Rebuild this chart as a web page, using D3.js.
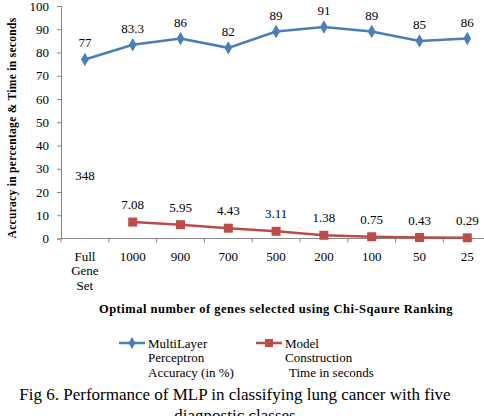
<!DOCTYPE html>
<html>
<head>
<meta charset="utf-8">
<script src="https://cdn.jsdelivr.net/npm/d3@7"></script>
<style>
  body { margin: 0; background: #fff; }
  svg, svg text { font-family: 'Liberation Serif', 'Times New Roman', serif; }
</style>
</head>
<body>
<div class="lineChart"></div>
<script>
// data
const categories = ["Full Gene Set", "1000", "900", "700", "500", "200", "100", "50", "25"];
const accuracy = [77, 83.3, 86, 82, 89, 91, 89, 85, 86];
const buildTime = [348, 7.08, 5.95, 4.43, 3.11, 1.38, 0.75, 0.43, 0.29];
const yTicks = [0, 10, 20, 30, 40, 50, 60, 70, 80, 90, 100];

const width = 484, height = 416;
const margin = {top: 6, left: 61, bottom: 178};
const plotBottom = height - margin.bottom;   // y of zero line

const svg = d3.select(".lineChart")
    .append("svg")
    .attr("width", width)
    .attr("height", height);

const x = d3.scaleBand()
    .domain(categories)
    .range([margin.left, margin.left + 9 * 47.8]);

const y = d3.scaleLinear()
    .domain([0, 100])
    .range([plotBottom + 0.5, margin.top]);

const cx = d => x(d) + x.bandwidth() / 2;

// y axis
const yAxis = svg.append("g")
    .attr("transform", "translate(" + margin.left + ",0)")
    .call(d3.axisLeft(y).tickValues(yTicks).tickSize(4).tickPadding(8))
    .attr("font-family", null)
    .attr("font-size", 13);
yAxis.select(".domain").attr("stroke", "#868686");
yAxis.selectAll(".tick line").attr("stroke", "#868686");
yAxis.selectAll("text").attr("fill", "#000");

// x axis
const xAxis = svg.append("g")
    .attr("transform", "translate(0," + (plotBottom + 0.5) + ")");
xAxis.append("line")
    .attr("x1", margin.left).attr("x2", x.range()[1])
    .attr("stroke", "#868686");
xAxis.selectAll(".xtick")
    .data(categories.concat(["end"]))
    .enter().append("line")
    .attr("x1", (d, i) => margin.left + i * x.step())
    .attr("x2", (d, i) => margin.left + i * x.step())
    .attr("y1", 0).attr("y2", 4)
    .attr("stroke", "#868686");
xAxis.selectAll(".xlab")
    .data(categories)
    .enter().append("text")
    .attr("text-anchor", "middle")
    .attr("font-size", 13)
    .each(function(d) {
        const lines = d === "Full Gene Set" ? ["Full", "Gene", "Set"] : [d];
        d3.select(this).selectAll("tspan")
            .data(lines).enter().append("tspan")
            .attr("x", cx(d))
            .attr("y", (l, i) => 22 + i * 14.5)
            .text(l => l);
    });

// axis titles
svg.append("text")
    .attr("transform", "translate(16," + 128 + ") rotate(-90)")
    .attr("text-anchor", "middle")
    .attr("font-weight", "bold")
    .attr("font-size", 11.5)
    .attr("letter-spacing", 0.3)
    .text("Accuracy in percentage & Time in seconds");

svg.append("text")
    .attr("x", 276).attr("y", 313)
    .attr("text-anchor", "middle")
    .attr("font-weight", "bold")
    .attr("font-size", 12.5)
    .attr("letter-spacing", 0.5)
    .text("Optimal number of genes selected using Chi-Sqaure Ranking");

// clip so the off-scale 348 point stays hidden
svg.append("clipPath").attr("id", "plotClip")
    .append("rect")
    .attr("x", margin.left).attr("y", 0)
    .attr("width", width).attr("height", plotBottom + 6);

const blue = "#4a7ebb", red = "#be4b48";

const line = d3.line().x((d, i) => cx(categories[i])).y(d => y(d));

// accuracy series
svg.append("path")
    .datum(accuracy)
    .attr("d", line)
    .attr("fill", "none")
    .attr("stroke", blue)
    .attr("stroke-width", 2.5);
svg.selectAll(".dia")
    .data(accuracy)
    .enter().append("path")
    .attr("d", d3.symbol().type(d3.symbolDiamond).size(52))
    .attr("transform", (d, i) => "translate(" + cx(categories[i]) + "," + y(d) + ")")
    .attr("fill", blue);
svg.selectAll(".alab")
    .data(accuracy)
    .enter().append("text")
    .attr("x", (d, i) => cx(categories[i]))
    .attr("y", d => y(d) - 12)
    .attr("text-anchor", "middle")
    .attr("font-size", 13)
    .text(d => d);

// time series
const timeG = svg.append("g").attr("clip-path", "url(#plotClip)");
timeG.append("path")
    .datum(buildTime.slice(1))
    .attr("d", d3.line().x((d, i) => cx(categories[i + 1])).y(d => y(d)))
    .attr("fill", "none")
    .attr("stroke", red)
    .attr("stroke-width", 2.5);
timeG.selectAll(".sq")
    .data(buildTime.slice(1))
    .enter().append("rect")
    .attr("x", (d, i) => cx(categories[i + 1]) - 4.5)
    .attr("y", d => y(d) - 4.5)
    .attr("width", 9).attr("height", 9)
    .attr("fill", red);
svg.selectAll(".tlab")
    .data(buildTime)
    .enter().append("text")
    .attr("x", (d, i) => cx(categories[i]))
    .attr("y", d => d > 100 ? y(27) + 4 : y(d) - 13)
    .attr("text-anchor", "middle")
    .attr("font-size", 13)
    .text(d => d.toFixed(d > 100 ? 0 : 2));

// legend
const legend = [
    {color: blue, sym: "diamond", x: 119, lines: ["MultiLayer", "Perceptron", "Accuracy (in %)"], dx: [0, 0, 0]},
    {color: red, sym: "square", x: 256, lines: ["Model", "Construction", "Time in seconds"], dx: [0, 0, 4]}
];
const lg = svg.selectAll(".leg").data(legend).enter().append("g")
    .attr("transform", d => "translate(" + d.x + ",343)");
lg.append("line").attr("x1", 0).attr("x2", 26)
    .attr("stroke", d => d.color).attr("stroke-width", 2.5);
lg.append("path")
    .attr("d", d => d3.symbol().type(d.sym === "diamond" ? d3.symbolDiamond : d3.symbolSquare).size(d.sym === "diamond" ? 40 : 64)())
    .attr("transform", "translate(13,0)")
    .attr("fill", d => d.color);
lg.each(function(d) {
    d3.select(this).selectAll("text").data(d.lines).enter().append("text")
        .attr("x", (l, i) => 29 + d.dx[i])
        .attr("y", (l, i) => 4.5 + i * 14.5)
        .attr("font-size", 13)
        .text(l => l);
});

// caption (second line is cut by the bottom edge, as in the figure)
svg.append("text")
    .attr("x", 235).attr("y", 400)
    .attr("text-anchor", "middle")
    .attr("font-size", 17)
    .text("Fig 6. Performance of MLP in classifying lung cancer with five");
svg.append("text")
    .attr("x", 235).attr("y", 421)
    .attr("text-anchor", "middle")
    .attr("font-size", 17)
    .text("diagnostic classes");
</script>
</body>
</html>
